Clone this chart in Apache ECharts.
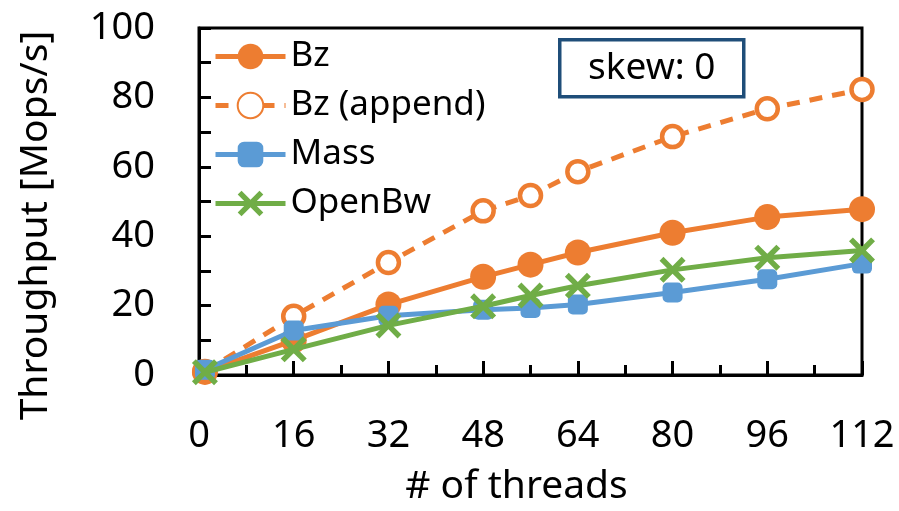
<!DOCTYPE html>
<html><head><meta charset="utf-8">
<script src="https://cdn.jsdelivr.net/npm/echarts@6/dist/echarts.min.js"></script>
<style>html,body{margin:0;padding:0;background:#fff}#c{width:899px;height:511px}</style>
</head><body><div id="c"></div>
<script>
const threads = [1, 16, 32, 48, 56, 64, 80, 96, 112];
const bz = [0.9, 10.0, 20.3, 28.3, 31.8, 35.3, 41.0, 45.5, 47.8];
const bzAppend = [1.0, 16.9, 32.4, 47.3, 51.7, 58.6, 68.7, 76.7, 82.3];
const mass = [1.5, 12.8, 17.1, 18.8, 19.3, 20.3, 23.8, 27.6, 32.1];
const openBw = [0.8, 7.4, 14.3, 19.8, 22.9, 25.7, 30.3, 33.8, 35.9];
const seriesNames = ['Bz', 'Bz (append)', 'Mass', 'OpenBw'];
const xTicks = [0, 16, 32, 48, 64, 80, 96, 112];
const yTicks = [0, 20, 40, 60, 80, 100];

const FONT = 'Noto Sans';
const ORANGE = '#ED7D31', BLUE = '#5B9BD5', GREEN = '#70AD47';
const XPATH = 'path://M3,0 L10,7 L17,0 L20,3 L13,10 L20,17 L17,20 L10,13 L3,20 L0,17 L7,10 L0,3 Z';
const pair = arr => threads.map((t, i) => [t, arr[i]]);

const chart = echarts.init(document.getElementById('c'), null, {renderer: 'canvas'});
chart.setOption({
  animation: false,
  backgroundColor: '#fff',
  grid: {left: 199, right: 37, top: 28, bottom: 133, show: true, borderColor: '#000', borderWidth: 3},
  legend: {
    orient: 'vertical', left: 208, top: 34, itemWidth: 70, itemHeight: 32, itemGap: 14,
    lineStyle: {width: 5},
    textStyle: {fontFamily: FONT, fontSize: 35, color: '#000'},
    data: seriesNames
  },
  xAxis: {
    type: 'value', min: 0, max: 112, interval: 16,
    name: '# of threads', nameLocation: 'middle', nameGap: 92,
    nameTextStyle: {fontFamily: FONT, fontSize: 39, color: '#000', padding: [0, 28, 0, 0]},
    axisLine: {show: true, lineStyle: {color: '#000', width: 3}},
    axisTick: {show: true, inside: true, length: 14, lineStyle: {color: '#000', width: 3}},
    minorTick: {show: true, splitNumber: 2, length: 10, lineStyle: {color: '#000', width: 3}},
    splitLine: {show: false},
    axisLabel: {fontFamily: FONT, fontSize: 38, color: '#000', margin: 42,
      formatter: v => xTicks.includes(v) ? String(v) : ''}
  },
  yAxis: {
    type: 'value', min: 0, max: 100, interval: 10,
    name: 'Throughput [Mops/s]', nameLocation: 'middle', nameGap: 144,
    nameTextStyle: {fontFamily: FONT, fontSize: 39, color: '#000', padding: [0, 48, 0, 0]},
    axisLine: {show: true, lineStyle: {color: '#000', width: 3}},
    axisTick: {show: true, inside: true, length: 12, lineStyle: {color: '#000', width: 3}},
    splitLine: {show: false},
    axisLabel: {fontFamily: FONT, fontSize: 38, color: '#000', margin: 44,
      formatter: v => yTicks.includes(v) ? String(v) : ''}
  },
  graphic: [{
    type: 'group', left: 558, top: 38,
    children: [
      {type: 'rect', shape: {x: 0, y: 0, width: 184, height: 57},
        style: {fill: '#fff', stroke: '#1F4E79', lineWidth: 3.5}},
      {type: 'text', x: 92, y: 29, style: {text: 'skew: 0', fontFamily: FONT, fontSize: 37,
        fill: '#000', textAlign: 'center', textVerticalAlign: 'middle'}}
    ]
  }],
  series: [
    {name: 'Bz', type: 'line', data: pair(bz), symbol: 'circle', symbolSize: 26,
      lineStyle: {color: ORANGE, width: 5}, itemStyle: {color: ORANGE}, z: 3},
    {name: 'Bz (append)', type: 'line', data: pair(bzAppend), symbol: 'circle', symbolSize: 21,
      lineStyle: {color: ORANGE, width: 5, type: [13, 10]},
      itemStyle: {color: '#fff', borderColor: ORANGE, borderWidth: 4.5}, z: 2},
    {name: 'Mass', type: 'line', data: pair(mass), symbol: 'roundRect', symbolSize: 20,
      lineStyle: {color: BLUE, width: 5}, itemStyle: {color: BLUE}, z: 4},
    {name: 'OpenBw', type: 'line', data: pair(openBw), symbol: XPATH, symbolSize: 26,
      lineStyle: {color: GREEN, width: 5}, itemStyle: {color: GREEN}, z: 5}
  ]
});
</script></body></html>
